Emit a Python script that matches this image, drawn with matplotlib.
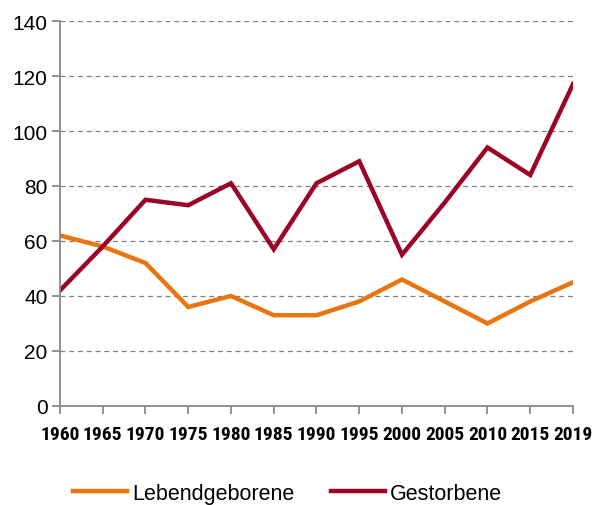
import numpy as np
import matplotlib
matplotlib.use("Agg")
from matplotlib import pyplot as plt
from matplotlib import font_manager

years = ['1960', '1965', '1970', '1975', '1980', '1985', '1990', '1995',
         '2000', '2005', '2010', '2015', '2019']
lebendgeborene = [62, 58, 52, 36, 40, 33, 33, 38, 46, 38, 30, 38, 45]
gestorbene = [42, 58, 75, 73, 81, 57, 81, 89, 55, 74, 94, 84, 117]
yticks = [0, 20, 40, 60, 80, 100, 120, 140]

# schmale Schrift fuer die Jahreszahlen, falls vorhanden
names = {f.name for f in font_manager.fontManager.ttflist}
narrow = None
for cand in ['Liberation Sans Narrow', 'Arial Narrow', 'Roboto Condensed', 'DejaVu Sans Condensed']:
    if cand in names:
        narrow = cand
        break

plt.rcParams['font.family'] = ['Liberation Sans', 'DejaVu Sans']

fig = plt.figure(figsize=(5.95, 5.06), dpi=100)
ax = fig.add_axes([0.1008, 0.1957, 0.8622, 0.7608])

x = np.arange(len(years))
ax.plot(x, lebendgeborene, color='#E8750F', lw=3.2, label='Lebendgeborene', solid_joinstyle='miter')
ax.plot(x, gestorbene, color='#9C0425', lw=3.2, label='Gestorbene', solid_joinstyle='miter')

ax.set_xlim(0, len(years) - 1)
ax.set_ylim(0, 140)
ax.set_yticks(yticks)
ax.set_yticklabels([str(v) for v in yticks], fontsize=15)
ax.set_xticks(x)
if narrow:
    ax.set_xticklabels(years, fontsize=14, fontweight='bold', family=[narrow, 'DejaVu Sans'])
else:
    ax.set_xticklabels(years, fontsize=12.3, fontweight='bold')

ax.yaxis.grid(True, ls=(0, (4, 3)), color='#808080', lw=0.9)
ax.set_axisbelow(True)
for s in ['top', 'right']:
    ax.spines[s].set_visible(False)
for s in ['left', 'bottom']:
    ax.spines[s].set_color('#888888')
    ax.spines[s].set_linewidth(1.3)
ax.tick_params(axis='both', colors='#888888', length=6, width=1.3, labelcolor='black')
ax.tick_params(axis='x', pad=8)
ax.tick_params(axis='y', pad=3)

fig.legend(loc='lower center', bbox_to_anchor=(0.483, -0.036), ncol=2, frameon=False,
           fontsize=15.5, handlelength=2.5, handletextpad=0.25, columnspacing=1.7)

plt.savefig('out.png', dpi=100)
